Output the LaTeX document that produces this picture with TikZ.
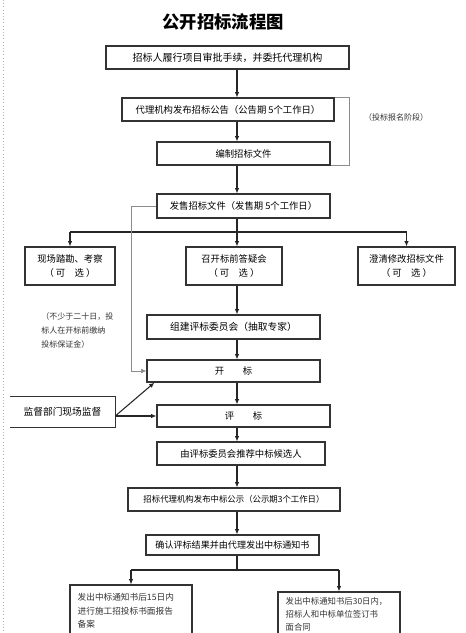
\documentclass[tikz,border=0pt]{standalone}
\usepackage{fontspec}
\setmainfont{Noto Sans CJK SC}
\usetikzlibrary{arrows.meta}

\begin{document}
\begin{tikzpicture}[x=0.75pt,y=-0.75pt,
    box/.style={draw=black!80,line width=0.9pt,inner sep=0pt,align=center,font=\fontsize{7}{11}\selectfont},
    arr/.style={-{Latex[length=4pt,width=3.5pt]},line width=0.8pt,black!85},
    link/.style={line width=0.8pt,black!85},
    faint/.style={black!45,line width=0.5pt},
    small/.style={font=\fontsize{6}{10.5}\selectfont,black!80,align=left,inner sep=0pt}]
    \useasboundingbox (0,0) rectangle (465,633);
    \clip (0,0) rectangle (465,633);
    % Page edge
    \draw[black!30,dotted] (3,0) -- (3,633);

    % Guide coordinates
    \coordinate (spine) at (237,0);
    \coordinate (rail) at (349,0);
    \coordinate (side) at (131,0);
    \coordinate (fan1) at (0,232);
    \coordinate (fan2) at (0,570);

    % Title
    \node[font=\fontsize{13}{15}\selectfont\bfseries] (title) at (223,22) {公开招标流程图};

    % Preparation stage
    \node[box,minimum width=182.25pt,minimum height=17.25pt,font=\fontsize{7.5}{11}\selectfont] (b1) at (227.5,57.5) {招标人履行项目审批手续，并委托代理机构};
    \node[box,minimum width=159pt,minimum height=17.25pt] (b2) at (228,109.5) {代理机构发布招标公告（公告期 5个工作日）};
    \node[box,minimum width=129.75pt,minimum height=17.25pt] (b3) at (243.5,153.5) {编制招标文件};
    \node[box,minimum width=129.75pt,minimum height=18pt] (b4) at (243.5,206) {发售招标文件（发售期 5个工作日）};
    \node[small] (stage) at (396,117) {（投标报名阶段）};

    % Optional steps
    \node[box,minimum width=67.5pt,minimum height=28.5pt] (b5a) at (70,266) {现场踏勘、考察\\（ 可\quad 选 ）};
    \node[box,minimum width=72pt,minimum height=28.5pt] (b5b) at (234,266) {召开标前答疑会\\（ 可\quad 选 ）};
    \node[box,minimum width=72.75pt,minimum height=28.5pt] (b5c) at (406.5,266) {澄清修改招标文件\\（ 可\quad 选 ）};

    % Opening and evaluation
    \node[box,minimum width=129.75pt,minimum height=18pt,font=\fontsize{7.3}{11}\selectfont] (b6) at (233.5,327) {组建评标委员会（抽取专家）};
    \node[small,anchor=north west] (note) at (41,312) {（不少于二十日，投\\标人在开标前缴纳\\投标保证金）};
    \node[box,minimum width=129.75pt,minimum height=16.5pt] (b7) at (233.5,371) {开\qquad 标};
    \node[box,minimum width=129.75pt,minimum height=16.5pt] (b8) at (243.5,416) {评\qquad 标};
    \node[inner sep=0pt,minimum width=78.75pt,minimum height=22.5pt,font=\fontsize{7.3}{11}\selectfont] (sup) at (62.5,412) {监督部门现场监督};
    \draw[line width=0.9pt,black!80] (sup.north west) -- (sup.north east) -- (sup.south east) -- (sup.south west);
    \coordinate (watch) at (sup.east |- b8.west);
    \node[box,minimum width=126pt,minimum height=17.25pt] (b9) at (241,453.5) {由评标委员会推荐中标候选人};

    % Award
    \node[box,minimum width=159pt,minimum height=17.25pt,font=\fontsize{6.3}{11}\selectfont] (b10) at (234,499.5) {招标代理机构发布中标公示（公示期3个工作日）};
    \node[box,minimum width=129.75pt,minimum height=15pt,font=\fontsize{6.8}{11}\selectfont] (b11) at (232.5,545) {确认评标结果并由代理发出中标通知书};
    \node[box,minimum width=91.5pt,minimum height=45pt] (b12) at (131,615) {};
    \node[small,anchor=north west,font=\fontsize{6.5}{10}\selectfont] (b12t) at ([shift={(8,9)}]b12.north west) {发出中标通知书后15日内\\进行施工招投标书面报告\\备案};
    \node[box,minimum width=91.5pt,minimum height=45pt] (b13) at (339,622) {};
    \node[small,anchor=north west,font=\fontsize{6.3}{9.5}\selectfont] (b13t) at ([shift={(8,6)}]b13.north west) {发出中标通知书后30日内，\\招标人和中标单位签订书\\面合同};

    % Main flow
    \draw[arr] (b1.south -| spine) -- (b2.north -| spine);
    \draw[arr] (b2.south -| spine) -- (b3.north -| spine);
    \draw[arr] (b3.south -| spine) -- (b4.north -| spine);
    \draw[faint] (b2.north east) -- (b2.north east -| rail) |- (b3.south east);

    % Fan out to optional steps
    \draw[link] (b4.south -| spine) -- (fan1 -| spine);
    \draw[link] (fan1 -| b5a.north) -- (fan1 -| b5c.north);
    \draw[arr] (fan1 -| b5a.north) -- (b5a.north);
    \draw[arr] (fan1 -| spine) -- (b5b.north -| spine);
    \draw[arr] (fan1 -| b5c.north) -- (b5c.north);

    % Down to the opening
    \draw[arr] (b5b.south -| spine) -- (b6.north -| spine);
    \draw[arr] (b6.south -| spine) -- (b7.north -| spine);
    \draw[faint,-{Latex[length=4pt,width=3.5pt]}] (b4.west) -- (b4.west -| side) |- (b7.west);
    \draw[arr] (b7.south -| spine) -- (b8.north -| spine);
    \draw[arr] (watch) -- ([xshift=6pt]b7.south west);
    \draw[arr] (watch) -- (b8.west);
    \draw[arr] (b8.south -| spine) -- (b9.north -| spine);
    \draw[arr] (b9.south -| spine) -- (b10.north -| spine);
    \draw[arr] (b10.south -| spine) -- (b11.north -| spine);

    % Split to the last steps
    \draw[link] (b11.south -| spine) -- (fan2 -| spine);
    \draw[link] (fan2 -| b12.north) -- (fan2 -| b13.north);
    \draw[arr] (fan2 -| b12.north) -- (b12.north);
    \draw[arr] (fan2 -| b13.north) -- (b13.north);
\end{tikzpicture}
\end{document}
